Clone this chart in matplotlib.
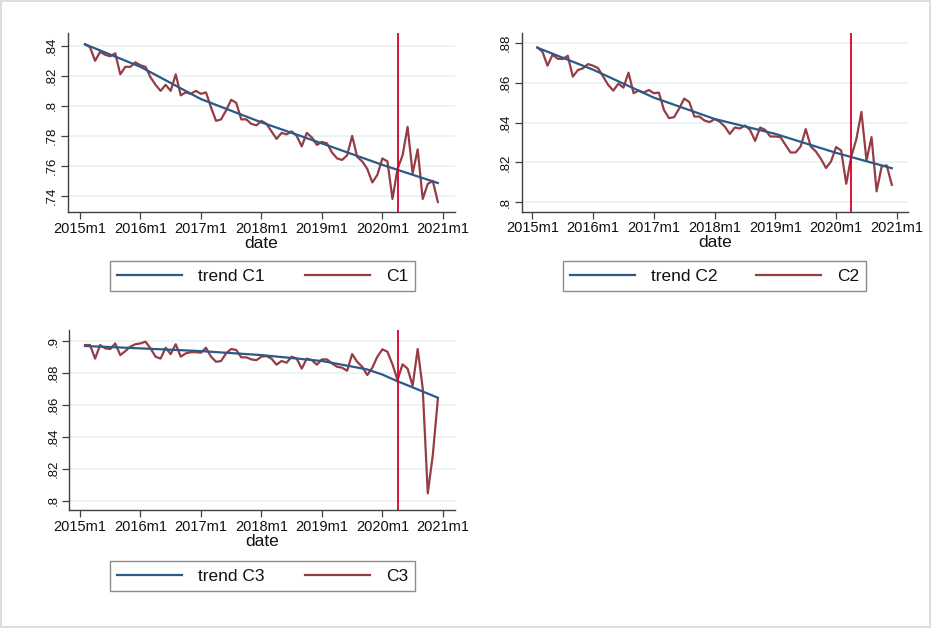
import numpy as np
import matplotlib
matplotlib.use("Agg")
import matplotlib.pyplot as plt

plt.rcParams["font.family"] = ["Liberation Sans", "DejaVu Sans"]

# months since 2015m1 -> observations run 2015m2 .. 2020m12
month = np.arange(1, 72)
year_ticks = [0, 12, 24, 36, 48, 60, 72]
year_labels = ["2015m1", "2016m1", "2017m1", "2018m1", "2019m1", "2020m1", "2021m1"]
event_month = 63  # 2020m4

c1 = [0.841, 0.839, 0.830, 0.836, 0.834, 0.833, 0.835, 0.821, 0.826, 0.826,
      0.829, 0.827, 0.826, 0.819, 0.814, 0.810, 0.814, 0.810, 0.821, 0.807,
      0.809, 0.808, 0.810, 0.808, 0.809, 0.799, 0.790, 0.791, 0.797, 0.804,
      0.802, 0.791, 0.791, 0.788, 0.787, 0.790, 0.788, 0.783, 0.778, 0.782,
      0.781, 0.783, 0.780, 0.773, 0.782, 0.779, 0.774, 0.776, 0.775, 0.769,
      0.765, 0.764, 0.767, 0.780, 0.766, 0.763, 0.758, 0.749, 0.754, 0.765,
      0.763, 0.738, 0.758, 0.767, 0.786, 0.755, 0.771, 0.738, 0.748, 0.750,
      0.736]

c2 = [0.8777, 0.8755, 0.8685, 0.8740, 0.8720, 0.8718, 0.8735, 0.8630, 0.8663, 0.8672,
      0.8693, 0.8685, 0.8672, 0.8630, 0.8588, 0.8560, 0.8595, 0.8575, 0.8650, 0.8547,
      0.8560, 0.8550, 0.8563, 0.8547, 0.8550, 0.8463, 0.8422, 0.8427, 0.8470, 0.8520,
      0.8503, 0.8430, 0.8430, 0.8410, 0.8402, 0.8417, 0.8405, 0.8380, 0.8343, 0.8375,
      0.8370, 0.8385, 0.8363, 0.8308, 0.8375, 0.8363, 0.8330, 0.8330, 0.8327, 0.8288,
      0.8250, 0.8250, 0.8280, 0.8367, 0.8280, 0.8255, 0.8218, 0.8172, 0.8205, 0.8277,
      0.8260, 0.8093, 0.8230, 0.8317, 0.8453, 0.8210, 0.8327, 0.8055, 0.8180, 0.8185,
      0.8088]

c3 = [0.8975, 0.8975, 0.8890, 0.8975, 0.8954, 0.8950, 0.8985, 0.8912, 0.8937, 0.8965,
      0.8980, 0.8985, 0.8996, 0.8954, 0.8902, 0.8890, 0.8958, 0.8918, 0.8980, 0.8902,
      0.8923, 0.8930, 0.8930, 0.8927, 0.8958, 0.8902, 0.8870, 0.8875, 0.8923, 0.8950,
      0.8944, 0.8898, 0.8898, 0.8885, 0.8880, 0.8902, 0.8906, 0.8890, 0.8852, 0.8875,
      0.8864, 0.8902, 0.8890, 0.8827, 0.8890, 0.8880, 0.8852, 0.8885, 0.8885, 0.8860,
      0.8839, 0.8833, 0.8814, 0.8918, 0.8870, 0.8839, 0.8787, 0.8833, 0.8902, 0.8948,
      0.8933, 0.8854, 0.8756, 0.8854, 0.8827, 0.8720, 0.8950, 0.8704, 0.8046, 0.8286,
      0.8636]

# fitted trends, read at a few months
trend_months = [1, 12, 24, 36, 48, 60, 71]
trend_c1 = [0.841, 0.826, 0.8045, 0.789, 0.775, 0.7607, 0.7486]
trend_c2 = [0.8775, 0.8665, 0.8525, 0.8418, 0.8343, 0.8248, 0.8171]
trend_months_c3 = [1, 12, 24, 36, 48, 54, 57, 60, 63, 66, 71]
trend_c3 = [0.8969, 0.8954, 0.8937, 0.8912, 0.8875, 0.8840, 0.8822, 0.8790,
            0.8748, 0.8710, 0.8645]

NAVY = "#2a5a85"
MAROON = "#963c44"
XLINE = "#d8002c"
GRID = "#eaf2f3"
AXIS = "#404040"


def stata_label(v):
    s = f"{v:.2f}".rstrip("0")
    return s.lstrip("0")


def draw_panel(ax, series, tmonths, trend, name, yticks, ylim, xlim):
    ax.set_xlim(*xlim)
    ax.set_ylim(*ylim)
    ax.set_yticks(yticks)
    ax.set_yticklabels([stata_label(v) for v in yticks], rotation=90, va="center")
    ax.set_xticks(year_ticks)
    ax.set_xticklabels(year_labels)
    ax.grid(axis="y", color=GRID, linewidth=1.3)
    ax.set_axisbelow(True)
    for side in ["top", "right"]:
        ax.spines[side].set_visible(False)
    for side in ["left", "bottom"]:
        ax.spines[side].set_color(AXIS)
        ax.spines[side].set_linewidth(1.0)
    ax.tick_params(axis="both", direction="out", length=5, width=0.9, color=AXIS,
                   labelcolor="#111111")
    ax.tick_params(axis="x", labelsize=10.5, pad=2)
    ax.tick_params(axis="y", labelsize=9.5, pad=2)
    ax.set_xlabel("date", fontsize=12.5, labelpad=0, color="#111111")

    h_trend, = ax.plot(tmonths, trend, color=NAVY, linewidth=1.6, zorder=3)
    h_data, = ax.plot(month, series, color=MAROON, linewidth=1.6, zorder=2)
    ax.axvline(event_month, color=XLINE, linewidth=1.3, zorder=4)
    return [h_trend, h_data], ["trend " + name, name]


def add_legend(ax, handles, labels, box):
    leg = ax.legend(handles, labels, loc="center", bbox_to_anchor=box,
                    bbox_transform=fig.transFigure, mode="expand", ncol=2,
                    frameon=True, fancybox=False, edgecolor="#707070",
                    fontsize=12.5, handlelength=3.75, handletextpad=0.9,
                    borderpad=0.4, borderaxespad=0)
    leg.get_frame().set_linewidth(1.0)
    for t in leg.get_texts():
        t.set_color("#111111")


fig = plt.figure(figsize=(9.31, 6.28), dpi=100)
fig.patch.set_facecolor("white")
fig.patch.set_edgecolor("#dddddd")
fig.patch.set_linewidth(1.5)

ax1 = fig.add_axes([0.0730, 0.6624, 0.4157, 0.2850])
ax2 = fig.add_axes([0.5604, 0.6629, 0.4149, 0.2846])
ax3 = fig.add_axes([0.0744, 0.1879, 0.4143, 0.2866])

h, l = draw_panel(ax1, c1, trend_months, trend_c1, "C1",
                  [0.74, 0.76, 0.78, 0.80, 0.82, 0.84], (0.7293, 0.8485), (-2.38, 74.4))
add_legend(ax1, h, l, (0.1182, 0.5366, 0.3276, 0.0478))

h, l = draw_panel(ax2, c2, trend_months, trend_c2, "C2",
                  [0.80, 0.82, 0.84, 0.86, 0.88], (0.7953, 0.8849), (-2.09, 74.2))
add_legend(ax2, h, l, (0.6047, 0.5366, 0.3255, 0.0478))

h, l = draw_panel(ax3, c3, trend_months_c3, trend_c3, "C3",
                  [0.80, 0.82, 0.84, 0.86, 0.88, 0.90], (0.7942, 0.9069), (-2.12, 74.4))
add_legend(ax3, h, l, (0.1182, 0.0589, 0.3276, 0.0478))

fig.savefig("out.png", dpi=100, facecolor=fig.get_facecolor(), edgecolor=fig.get_edgecolor())
